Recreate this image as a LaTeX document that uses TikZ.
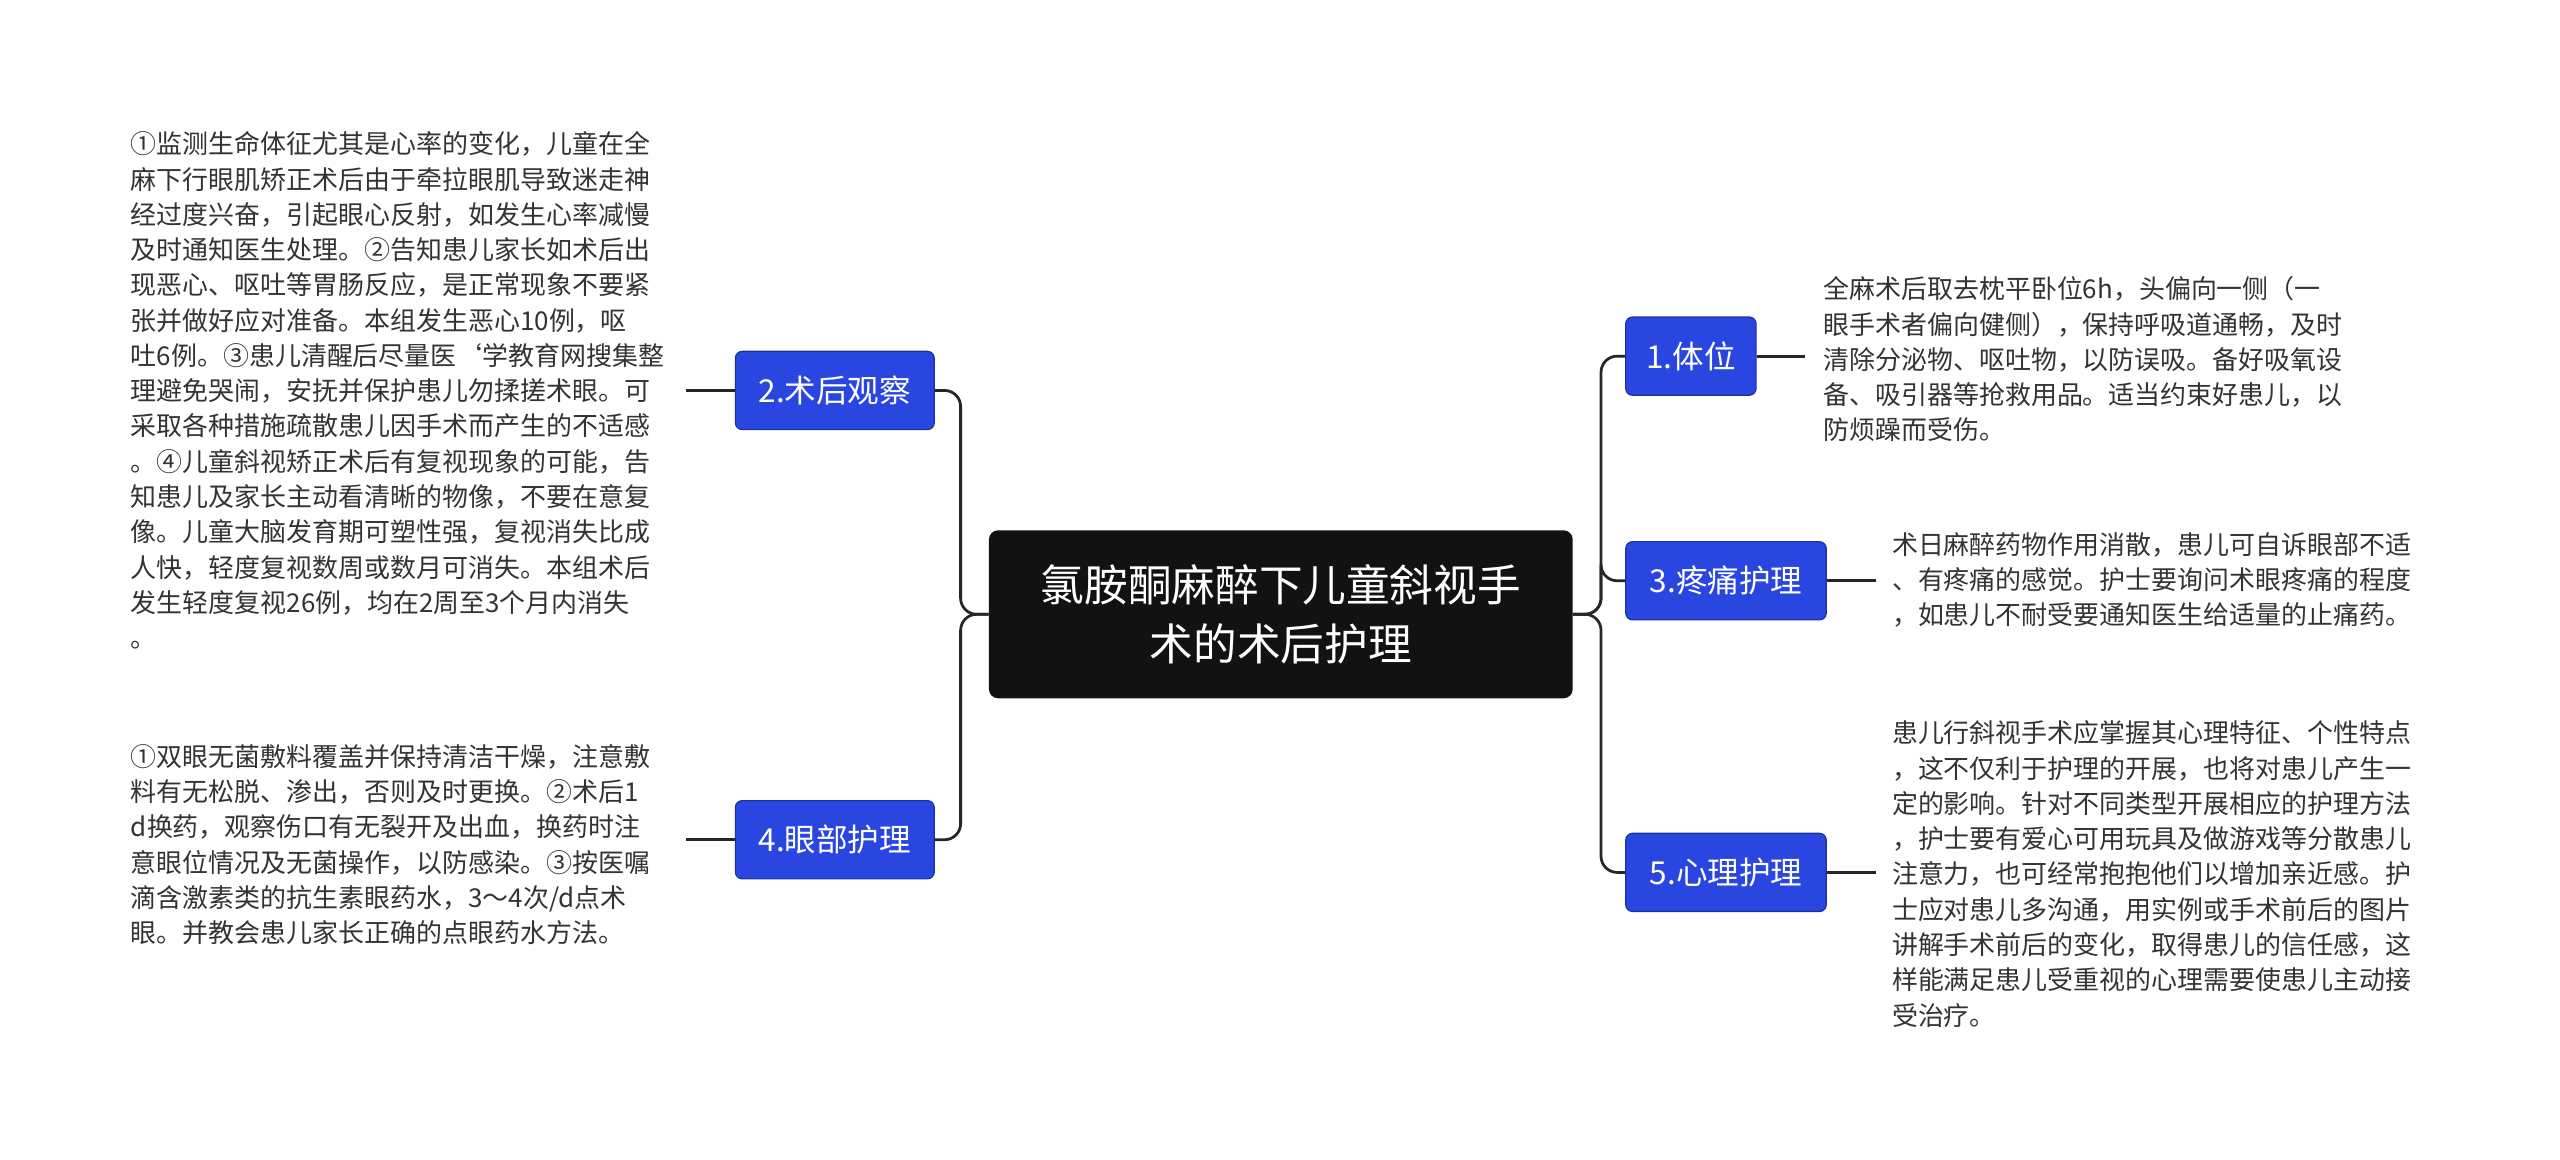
\documentclass[tikz,border=0pt]{standalone}
\usepackage{fontspec}
\setmainfont{Noto Sans CJK SC}
\begin{document}
\begin{tikzpicture}[x=0.5mm,y=-0.5mm,
  line/.style={draw=black!85,line width=2.4pt,rounded corners=14pt},
  branch/.style={fill=bluec,draw=bluec!70!black,line width=1pt,rounded corners=6pt,text=white,font=\fontsize{27.5}{32}\selectfont,inner sep=0pt,minimum height=48*1.42pt},
  body/.style={anchor=west,align=left,inner sep=0pt,text=black!80,font=\fontsize{22.6}{30.7}\selectfont}]
\definecolor{bluec}{HTML}{2A46E0}
\useasboundingbox (0,0) rectangle (1567,709.5);
\fill[white] (0,0) rectangle (1567,709.5);
\node[fill=black!93,rounded corners=8pt,text=white,align=center,font=\fontsize{38}{52}\selectfont,minimum width=358*1.42pt,minimum height=103*1.42pt,inner sep=0pt] (c) at (784,376) {氯胺酮麻醉下儿童斜视手\\术的术后护理};
\node[branch,minimum width=80*1.42pt] (b1) at (1035,218) {1.体位};
\node[branch,minimum width=123*1.42pt] (b3) at (1056.5,355.5) {3.疼痛护理};
\node[branch,minimum width=123*1.42pt] (b5) at (1056.5,534) {5.心理护理};
\node[branch,minimum width=122*1.42pt] (b2) at (511,239) {2.术后观察};
\node[branch,minimum width=122*1.42pt] (b4) at (511,514) {4.眼部护理};
\draw[line] (c.east) -| (980,300) |- (b1.west);
\draw[line] (c.east) -| (980,350) |- (b3.west);
\draw[line] (c.east) -| (980,450) |- (b5.west);
\draw[line] (c.west) -| (588,300) |- (b2.east);
\draw[line] (c.west) -| (588,450) |- (b4.east);
\node[body] (t1) at (1116,220) {全麻术后取去枕平卧位6h，头偏向一侧（一\\眼手术者偏向健侧），保持呼吸道通畅，及时\\清除分泌物、呕吐物，以防误吸。备好吸氧设\\备、吸引器等抢救用品。适当约束好患儿，以\\防烦躁而受伤。};
\node[body] (t3) at (1158,355) {术日麻醉药物作用消散，患儿可自诉眼部不适\\、有疼痛的感觉。护士要询问术眼疼痛的程度\\，如患儿不耐受要通知医生给适量的止痛药。};
\node[body] (t5) at (1158,535) {患儿行斜视手术应掌握其心理特征、个性特点\\，这不仅利于护理的开展，也将对患儿产生一\\定的影响。针对不同类型开展相应的护理方法\\，护士要有爱心可用玩具及做游戏等分散患儿\\注意力，也可经常抱抱他们以增加亲近感。护\\士应对患儿多沟通，用实例或手术前后的图片\\讲解手术前后的变化，取得患儿的信任感，这\\样能满足患儿受重视的心理需要使患儿主动接\\受治疗。};
\node[body] (t2) at (80,239) {①监测生命体征尤其是心率的变化，儿童在全\\麻下行眼肌矫正术后由于牵拉眼肌导致迷走神\\经过度兴奋，引起眼心反射，如发生心率减慢\\及时通知医生处理。②告知患儿家长如术后出\\现恶心、呕吐等胃肠反应，是正常现象不要紧\\张并做好应对准备。本组发生恶心10例，呕\\吐6例。③患儿清醒后尽量医`学教育网搜集整\\理避免哭闹，安抚并保护患儿勿揉搓术眼。可\\采取各种措施疏散患儿因手术而产生的不适感\\。④儿童斜视矫正术后有复视现象的可能，告\\知患儿及家长主动看清晰的物像，不要在意复\\像。儿童大脑发育期可塑性强，复视消失比成\\人快，轻度复视数周或数月可消失。本组术后\\发生轻度复视26例，均在2周至3个月内消失\\。};
\node[body] (t4) at (80,517) {①双眼无菌敷料覆盖并保持清洁干燥，注意敷\\料有无松脱、渗出，否则及时更换。②术后1\\d换药，观察伤口有无裂开及出血，换药时注\\意眼位情况及无菌操作，以防感染。③按医嘱\\滴含激素类的抗生素眼药水，3～4次/d点术\\眼。并教会患儿家长正确的点眼药水方法。};
\coordinate (e1) at (1105,218);
\coordinate (e3) at (1148,355.5);
\coordinate (e5) at (1148,534);
\coordinate (e2) at (420,239);
\coordinate (e4) at (420,514);
\draw[line] (b1.east) -- (e1);
\draw[line] (b3.east) -- (e3);
\draw[line] (b5.east) -- (e5);
\draw[line] (b2.west) -- (e2);
\draw[line] (b4.west) -- (e4);
\end{tikzpicture}
\end{document}
